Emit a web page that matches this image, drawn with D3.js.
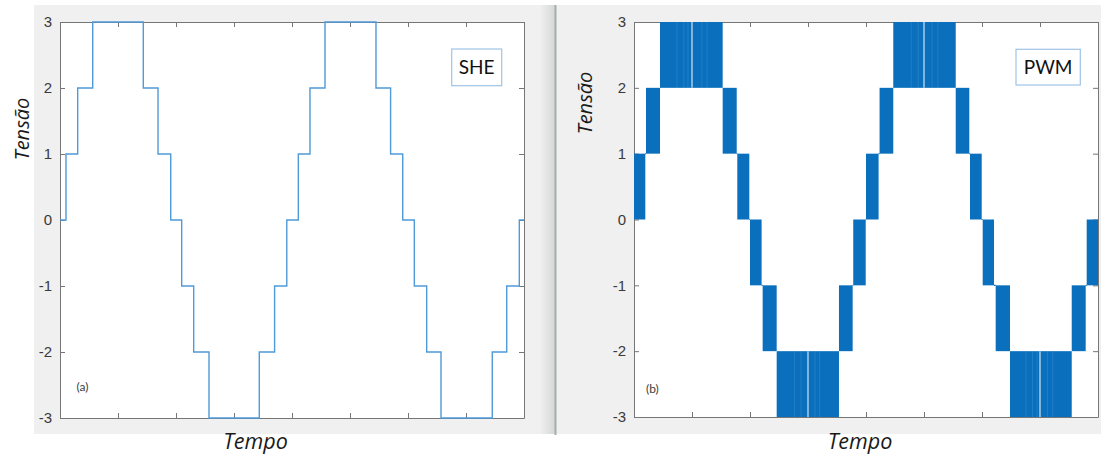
<!DOCTYPE html>
<html><head><meta charset="utf-8">
<script src="https://cdn.jsdelivr.net/npm/d3@7"></script>
<style>body{margin:0;background:#fff}svg{display:block}</style>
</head><body><svg id="c" width="1105" height="457"></svg>
<script>
// ---- data (time in x-tick units, 8 divisions across the axis) ----
const xTickValues = [0,1,2,3,4,5,6,7,8];
const yTickValues = [-3,-2,-1,0,1,2,3];
const yTickLabels = ["-3","-2","-1","0","1","2","3"];

// SHE staircase: level starting at each time, ends at 8
const sheTimes  = [0,0.103,0.305,0.564,1.436,1.69,1.909,2.098,2.305,2.569,3.436,3.70,3.91,
                   4.109,4.31,4.569,5.448,5.70,5.909,6.109,6.322,6.569,7.453,7.702,7.919,8.0];
const sheLevels = [0,1,2,3,2,1,0,-1,-2,-3,-2,-1,0,1,2,3,2,1,0,-1,-2,-3,-2,-1,0,0];

// PWM switching bands (signal toggles between low and high inside each band)
const pwmStart = [0,0.207,0.448,1.529,1.781,2.0,2.218,2.46,3.534,3.78,
                  4.0,4.234,4.47,5.547,5.793,6.012,6.236,6.483,7.547,7.805];
const pwmEnd   = [0.195,0.448,1.529,1.771,1.988,2.2,2.46,3.534,3.77,3.995,
                  4.217,4.47,5.547,5.781,5.995,6.207,6.483,7.547,7.788,8.0];
const pwmLow   = [0,1,2,1,0,-1,-2,-3,-2,-1, 0,1,2,1,0,-1,-2,-3,-2,-1];
const pwmHigh  = [1,2,3,2,1, 0,-1,-2,-1, 0, 1,2,3,2,1, 0,-1,-2,-1, 0];
// sparse-switching gaps and lighter streaks inside the peak bands
const pwmGaps    = [1,3,5,7];
const pwmStreaks = [0.74,0.86,0.93,1.17,1.26, 2.77,2.88,3.12,3.2,
                    4.78,4.9,5.14,5.24, 6.76,6.87,6.95,7.13,7.22];

const boxLabels = ["SHE","PWM"];
const panelTags = ["(a)","(b)"];

// ---- drawing ----
const svg = d3.select("#c");
svg.append("rect").attr("width",1105).attr("height",457).attr("fill","#fff");

const defs = svg.append("defs");
const g1 = defs.append("linearGradient").attr("id","shade").attr("x1","0").attr("x2","1");
g1.append("stop").attr("offset","0").attr("stop-color","#f0f0f0");
g1.append("stop").attr("offset","1").attr("stop-color","#d6d6d6");

// window backgrounds
svg.append("rect").attr("x",34).attr("y",5).attr("width",521).attr("height",429).attr("fill","#f0f0f0");
svg.append("rect").attr("x",540).attr("y",5).attr("width",15).attr("height",429).attr("fill","url(#shade)");
svg.append("rect").attr("x",556).attr("y",5).attr("width",545).attr("height",429).attr("fill","#f0f0f0");
svg.append("line").attr("x1",555.5).attr("x2",555.5).attr("y1",5).attr("y2",435)
   .attr("stroke","#9fb1ad").attr("stroke-width",2);

const panels = [
  {x0:60, x1:524, y0:22, y1:418, ylab:[29,129], tempo:255.5, box:[451.7,49,50,36.7], tag:[76.5,390.5]},
  {x0:634,x1:1098,y0:22, y1:417, ylab:[592,103], tempo:860,  box:[1016,49.3,64.3,35.7], tag:[646,393]}
];

panels.forEach((p,i)=>{
  const x = d3.scaleLinear().domain([0,8]).range([p.x0,p.x1]);
  const y = d3.scaleLinear().domain([-3,3]).range([p.y1,p.y0]);
  const g = svg.append("g");
  g.append("rect").attr("x",p.x0).attr("y",p.y0).attr("width",p.x1-p.x0).attr("height",p.y1-p.y0).attr("fill","#fff");

  const axCol = "#767676";
  const styleAxis = sel => { sel.selectAll("path,line").attr("stroke",axCol).attr("stroke-width",1); };
  g.append("g").attr("transform",`translate(0,${p.y1})`)
    .call(d3.axisBottom(x).tickValues(xTickValues).tickSize(-5).tickSizeOuter(0).tickFormat(""))
    .call(styleAxis);
  g.append("g").attr("transform",`translate(0,${p.y0})`)
    .call(d3.axisTop(x).tickValues(xTickValues).tickSize(-5).tickSizeOuter(0).tickFormat(""))
    .call(styleAxis);
  const yl = g.append("g").attr("transform",`translate(${p.x0},0)`)
    .call(d3.axisLeft(y).tickValues(yTickValues).tickSize(-5).tickSizeOuter(0)
      .tickFormat((d,k)=>yTickLabels[k]).tickPadding(8))
    .call(styleAxis);
  yl.selectAll("text").attr("font-family","'Liberation Sans',Arial,sans-serif").attr("font-size",15)
    .attr("fill","#3a3a3a");
  g.append("g").attr("transform",`translate(${p.x1},0)`)
    .call(d3.axisRight(y).tickValues(yTickValues).tickSize(-5).tickSizeOuter(0).tickFormat(""))
    .call(styleAxis);
  g.selectAll(".domain").attr("stroke",axCol);

  const plot = g.append("g");
  if (i===0) {
    const pts = sheTimes.map((t,k)=>[t, sheLevels[k]]);
    plot.append("path").datum(pts)
      .attr("d", d3.line().x(d=>x(d[0])).y(d=>y(d[1])).curve(d3.curveStepAfter))
      .attr("fill","none").attr("stroke","#4f9ad8").attr("stroke-width",1.4);
  } else {
    const bands = pwmStart.map((s,k)=>({s, e:pwmEnd[k], lo:pwmLow[k], hi:pwmHigh[k]}));
    plot.selectAll("rect.band").data(bands).join("rect").attr("class","band")
      .attr("x",d=>x(d.s)).attr("width",d=>x(d.e)-x(d.s))
      .attr("y",d=>y(d.hi)).attr("height",d=>y(d.lo)-y(d.hi))
      .attr("fill","#0a70bd");
    // horizontal connectors between bands
    plot.selectAll("line.conn").data(bands.slice(0,-1)).join("line").attr("class","conn")
      .attr("x1",d=>x(d.e)).attr("x2",(d,k)=>x(bands[k+1].s))
      .attr("y1",(d,k)=>y(d.hi===bands[k+1].lo||d.hi===bands[k+1].hi?d.hi:d.lo))
      .attr("y2",(d,k)=>y(d.hi===bands[k+1].lo||d.hi===bands[k+1].hi?d.hi:d.lo))
      .attr("stroke","#0a70bd").attr("stroke-width",1.2);
    const peakBand = t => bands.find(b=>t>=b.s && t<=b.e);
    plot.selectAll("line.streak").data(pwmStreaks).join("line").attr("class","streak")
      .attr("x1",d=>x(d)).attr("x2",d=>x(d))
      .attr("y1",d=>y(peakBand(d).hi)).attr("y2",d=>y(peakBand(d).lo))
      .attr("stroke","#6aaee0").attr("stroke-width",0.7).attr("opacity",0.35);
    plot.selectAll("line.gap").data(pwmGaps).join("line").attr("class","gap")
      .attr("x1",d=>x(d)).attr("x2",d=>x(d))
      .attr("y1",d=>y(peakBand(d).hi)).attr("y2",d=>y(peakBand(d).lo))
      .attr("stroke","#cfe3f4").attr("stroke-width",1.2);
  }

  // legend-like box
  const [bx,by,bw,bh] = p.box;
  svg.append("rect").attr("x",bx).attr("y",by).attr("width",bw).attr("height",bh)
    .attr("fill","#fff").attr("stroke","#9ec4e8").attr("stroke-width",1.2);
  svg.append("text").attr("x",bx+bw/2).attr("y",by+25).attr("text-anchor","middle")
    .attr("font-family","Lato,'Open Sans',sans-serif").attr("font-size",19)
    .attr("fill","#111").text(boxLabels[i]);

  svg.append("text").attr("x",p.tag[0]).attr("y",p.tag[1])
    .attr("font-family","Lato,'Open Sans',sans-serif").attr("font-size",12).attr("fill","#3b3b3b")
    .text(panelTags[i]);

  svg.append("text").attr("transform",`translate(${p.ylab[0]},${p.ylab[1]}) rotate(-90)`)
    .attr("text-anchor","middle").attr("font-family","'Open Sans',sans-serif")
    .attr("font-style","italic").attr("font-size",20).attr("fill","#1a1a1a").text("Tensão");
  svg.append("text").attr("x",p.tempo).attr("y",449).attr("text-anchor","middle")
    .attr("font-family","'Open Sans',sans-serif")
    .attr("font-style","italic").attr("font-size",21.5).attr("fill","#1a1a1a").text("Tempo");
});
</script>
</body></html>
